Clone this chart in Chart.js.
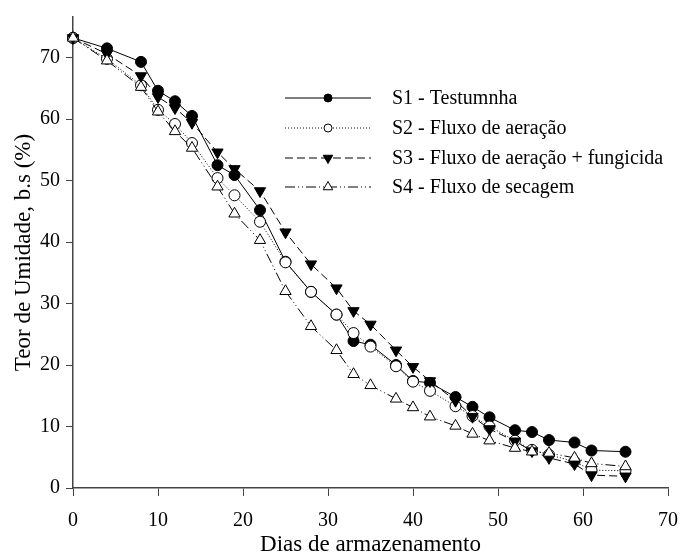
<!DOCTYPE html>
<html>
<head>
<meta charset="utf-8">
<script src="https://cdn.jsdelivr.net/npm/chart.js@4"></script>
<style>
  html, body { margin: 0; padding: 0; background: #fff; }
  #wrap { width: 681px; height: 556px; position: relative; }
</style>
</head>
<body>
<div id="wrap"><canvas id="chart"></canvas></div>
<script>
// storage days (x) and moisture content, dry basis (%)
const days = [0, 4, 8, 10, 12, 14, 17, 19, 22, 25, 28, 31, 33, 35, 38, 40, 42, 45, 47, 49, 52, 54, 56, 59, 61, 65];
const s1 = [73.2, 71.5, 69.3, 64.6, 62.9, 60.5, 52.5, 50.9, 45.2, 36.8, 31.9, 28.2, 23.9, 23.3, 20.0, 17.4, 17.1, 14.8, 13.2, 11.5, 9.4, 9.1, 7.8, 7.4, 6.1, 5.9];
const s2 = [73.2, 69.8, 65.5, 61.5, 59.2, 56.1, 50.4, 47.6, 43.3, 36.7, 31.9, 28.2, 25.2, 23.0, 19.8, 17.3, 15.8, 13.3, 11.7, 10.0, 7.7, 6.2, 5.4, 4.3, 2.9, 2.8];
const s3 = [73.2, 70.6, 67.0, 63.6, 61.8, 59.4, 54.6, 51.9, 48.3, 41.6, 36.4, 32.5, 28.8, 26.6, 22.4, 19.7, 17.4, 14.2, 11.6, 9.6, 7.6, 6.0, 4.9, 3.9, 2.1, 1.9];
const s4 = [73.2, 69.5, 65.2, 61.2, 58.0, 55.3, 49.0, 44.6, 40.3, 32.0, 26.3, 22.4, 18.5, 16.7, 14.5, 13.1, 11.6, 10.1, 8.8, 7.7, 6.5, 5.9, 5.7, 4.9, 4.0, 3.5];
const seriesLabels = ['S1 - Testumnha', 'S2 - Fluxo de aeração', 'S3 - Fluxo de aeração + fungicida', 'S4 - Fluxo de secagem'];
const yTicks = [0, 10, 20, 30, 40, 50, 60, 70];
const xTicks = [0, 10, 20, 30, 40, 50, 60, 70];

const FONT = "'Liberation Serif', 'Times New Roman', serif";
const AXIS = '#444';

const STYLE = [
  { dash: [], point: 'circle', fill: '#000', radius: 5.5, rot: 0 },
  { dash: [1, 2], point: 'circle', fill: '#fff', radius: 5.5, rot: 0 },
  { dash: [8, 4], point: 'triangle', fill: '#000', radius: 6.5, rot: 180 },
  { dash: [10, 3, 1, 3, 1, 3], point: 'triangle', fill: '#fff', radius: 6.5, rot: 0 },
];

function makeSet(i, values) {
  const st = STYLE[i];
  return {
    label: seriesLabels[i],
    data: days.map((d, k) => ({ x: d, y: values[k] })),
    borderColor: '#000',
    borderWidth: 1,
    borderDash: st.dash,
    pointStyle: st.point,
    pointRotation: st.rot,
    pointRadius: st.radius,
    pointBackgroundColor: st.fill,
    pointBorderColor: '#000',
    pointBorderWidth: 1,
    tension: 0,
    fill: false,
    clip: false,
    order: 4 - i,
  };
}

function drawMarker(ctx, st, x, y) {
  ctx.save();
  ctx.fillStyle = st.fill;
  ctx.strokeStyle = '#000';
  ctx.lineWidth = 1;
  ctx.setLineDash([]);
  ctx.beginPath();
  if (st.point === 'circle') {
    ctx.arc(x, y, st.radius - 0.5, 0, Math.PI * 2);
  } else {
    const r = st.radius;
    const dir = st.rot === 180 ? -1 : 1;
    ctx.moveTo(x, y - dir * r);
    ctx.lineTo(x + r * 0.866, y + dir * r * 0.5);
    ctx.lineTo(x - r * 0.866, y + dir * r * 0.5);
    ctx.closePath();
  }
  ctx.fill();
  ctx.stroke();
  ctx.restore();
}

// legend with line + marker, drawn inside the plot
const lineLegend = {
  id: 'lineLegend',
  afterDraw(chart) {
    const ctx = chart.ctx;
    const x0 = 285, x1 = 371, xm = 328, xt = 392;
    const rows = [98, 128, 158, 187];
    ctx.save();
    ctx.font = '20px ' + FONT;
    ctx.textBaseline = 'middle';
    ctx.fillStyle = '#000';
    seriesLabels.forEach((lab, i) => {
      const st = STYLE[i];
      const y = rows[i];
      ctx.save();
      ctx.strokeStyle = '#000';
      ctx.lineWidth = 1;
      ctx.setLineDash(st.dash);
      ctx.beginPath();
      ctx.moveTo(x0, y);
      ctx.lineTo(x1, y);
      ctx.stroke();
      ctx.restore();
      drawMarker(ctx, { ...st, radius: st.radius - 1 }, xm, y);
      ctx.fillText(lab, xt, y + 1);
    });
    ctx.restore();
  },
};

new Chart(document.getElementById('chart'), {
  type: 'line',
  data: { datasets: [makeSet(0, s1), makeSet(1, s2), makeSet(2, s3), makeSet(3, s4)] },
  options: {
    responsive: true,
    maintainAspectRatio: false,
    animation: false,
    layout: { padding: { left: 0, right: 13, top: 17, bottom: 0 } },
    plugins: { legend: { display: false }, tooltip: { enabled: false } },
    scales: {
      x: {
        type: 'linear',
        min: 0, max: 70,
        afterBuildTicks: s => { s.ticks = xTicks.map(v => ({ value: v })); },
        afterFit: s => { s.height = 68; s.paddingLeft = 0; s.paddingRight = 0; },
        border: { display: true, color: AXIS, width: 1.5 },
        grid: { drawOnChartArea: false, drawTicks: true, tickLength: 8, color: AXIS },
        ticks: { color: '#000', font: { family: FONT, size: 20 }, padding: 13, maxRotation: 0 },
        title: { display: true, text: 'Dias de armazenamento', color: '#000', font: { family: FONT, size: 23 }, padding: { top: 0, bottom: -3 } },
      },
      y: {
        min: 0, max: 76.6,
        afterBuildTicks: s => { s.ticks = yTicks.map(v => ({ value: v })); },
        afterFit: s => { s.width = 73; s.paddingTop = 0; s.paddingBottom = 0; },
        border: { display: true, color: AXIS, width: 1.5 },
        grid: { drawOnChartArea: false, drawTicks: true, tickLength: 7, color: AXIS },
        ticks: { color: '#000', font: { family: FONT, size: 20 }, padding: 6 },
        title: { display: true, text: 'Teor de Umidade, b.s (%)', color: '#000', font: { family: FONT, size: 23 }, padding: { top: 10, bottom: 0 } },
      },
    },
  },
  plugins: [lineLegend],
});
</script>
</body>
</html>
